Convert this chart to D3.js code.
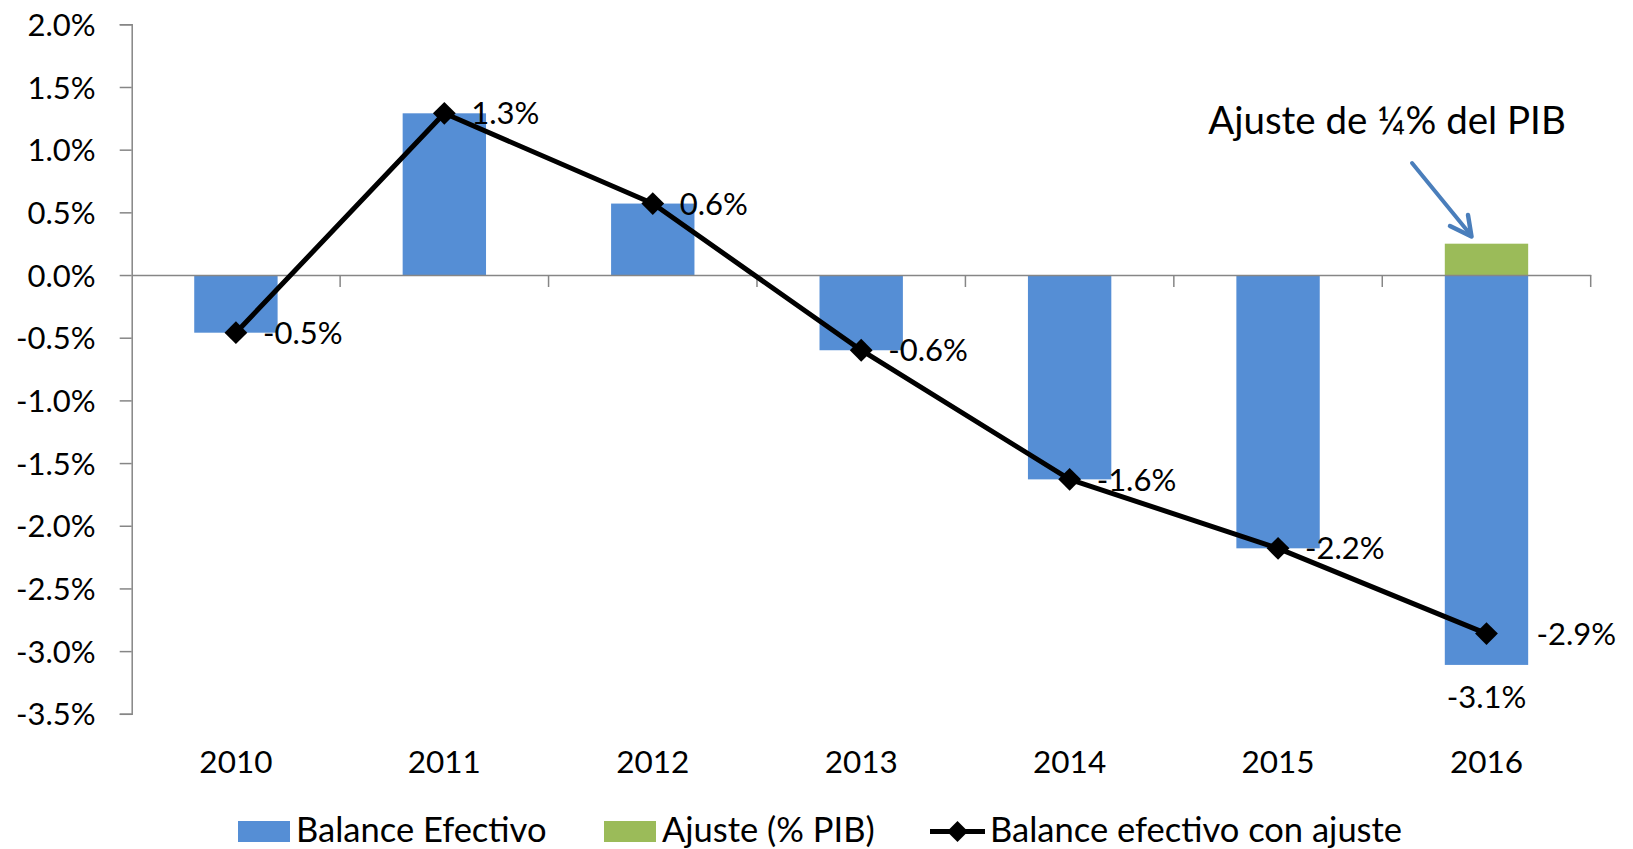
<!DOCTYPE html>
<html>
<head>
<meta charset="utf-8">
<script src="https://cdn.jsdelivr.net/npm/d3@7"></script>
<style>
  body { margin: 0; background: #fff; }
  svg text { font-family: Lato, "Open Sans", sans-serif; fill: #000; }
</style>
</head>
<body>
<svg></svg>
<script>
let years = ["2010", "2011", "2012", "2013", "2014", "2015", "2016"];
let balance = [-0.46, 1.29, 0.57, -0.60, -1.63, -2.18, -3.11];
let ajuste = [0, 0, 0, 0, 0, 0, 0.25];
let conAjuste = [-0.46, 1.29, 0.57, -0.60, -1.63, -2.18, -2.86];
let yTicks = [2.0, 1.5, 1.0, 0.5, 0.0, -0.5, -1.0, -1.5, -2.0, -2.5, -3.0, -3.5];
let legendNames = ["Balance Efectivo", "Ajuste (% PIB)", "Balance efectivo con ajuste"];
let note = "Ajuste de ¼% del PIB";

let width = 1633;
let height = 849;
let blue = "#558ed5";
let green = "#9bbb59";
let axisColor = "#868686";

let svg = d3.select("svg")
    .attr("width", width)
    .attr("height", height);

let xScale = d3.scaleBand()
    .domain(years)
    .range([131.7, 1590.7]);

let yScale = d3.scaleLinear()
    .domain([-3.5, 2.0])
    .range([713.8, 24.3]);

// excel style: plain hyphen for negatives
let pct = v => d3.format(".1%")(v).replace("\u2212", "-");
let barW = xScale.bandwidth() * 0.4;
let cx = d => xScale(d) + xScale.bandwidth() / 2;

// y axis
let yAxis = d3.axisLeft(yScale)
    .tickValues(yTicks)
    .tickSize(12)
    .tickPadding(24)
    .tickFormat(d => d3.format(".1f")(d).replace("\u2212", "-") + "%");

let gy = svg.append("g")
    .attr("transform", "translate(131.7,0)")
    .call(yAxis);
gy.select(".domain").attr("stroke", axisColor).attr("stroke-width", 1.5);
gy.selectAll(".tick line").attr("stroke", axisColor).attr("stroke-width", 1.5);
gy.selectAll(".tick text")
    .style("font-size", "31px")
    .attr("font-family", null)
    .attr("dy", "0.36em");

// bars
svg.append("g")
    .selectAll("rect")
    .data(years)
    .enter()
    .append("rect")
    .attr("x", d => cx(d) - barW / 2)
    .attr("y", (d, i) => yScale(Math.max(0, balance[i])))
    .attr("width", barW)
    .attr("height", (d, i) => Math.abs(yScale(balance[i]) - yScale(0)))
    .attr("fill", blue);

svg.append("g")
    .selectAll("rect")
    .data(years.filter((d, i) => ajuste[i] > 0))
    .enter()
    .append("rect")
    .attr("x", d => cx(d) - barW / 2)
    .attr("y", d => yScale(ajuste[years.indexOf(d)]))
    .attr("width", barW)
    .attr("height", d => yScale(0) - yScale(ajuste[years.indexOf(d)]))
    .attr("fill", green);

// category axis at zero
let xAxis = d3.axisBottom(xScale)
    .tickSize(0)
    .tickFormat("");
let gx = svg.append("g")
    .attr("transform", "translate(0," + yScale(0) + ")")
    .call(xAxis);
gx.select(".domain").attr("stroke", axisColor).attr("stroke-width", 1.5);
gx.selectAll(".tick").remove();
gx.selectAll(".sep")
    .data(years.slice(1).concat(["end"]))
    .enter()
    .append("line")
    .attr("x1", d => d === "end" ? xScale.range()[1] : xScale(d))
    .attr("x2", d => d === "end" ? xScale.range()[1] : xScale(d))
    .attr("y1", 0)
    .attr("y2", 12)
    .attr("stroke", axisColor)
    .attr("stroke-width", 1.5);

// category labels at the bottom
svg.append("g")
    .selectAll("text")
    .data(years)
    .enter()
    .append("text")
    .attr("x", d => cx(d))
    .attr("y", 773)
    .style("text-anchor", "middle")
    .style("font-size", "31.5px")
    .text(d => d);

// line with markers
let line = d3.line()
    .x((d, i) => cx(years[i]))
    .y(d => yScale(d));

svg.append("path")
    .datum(conAjuste)
    .attr("d", line)
    .attr("fill", "none")
    .attr("stroke", "#000")
    .attr("stroke-width", 5)
    .attr("stroke-linejoin", "round");

let diamond = d3.symbol().type(d3.symbolSquare).size(260);
svg.append("g")
    .selectAll("path")
    .data(conAjuste)
    .enter()
    .append("path")
    .attr("d", diamond)
    .attr("transform", (d, i) => "translate(" + cx(years[i]) + "," + yScale(d) + ") rotate(45)")
    .attr("fill", "#000");

// line labels
svg.append("g")
    .selectAll("text")
    .data(conAjuste)
    .enter()
    .append("text")
    .attr("x", (d, i) => cx(years[i]) + (i === 6 ? 50 : 27))
    .attr("y", d => yScale(d))
    .attr("dy", "0.36em")
    .style("font-size", "31px")
    .text(d => pct(d / 100));

// label under 2016 bar
svg.append("text")
    .attr("x", cx("2016"))
    .attr("y", yScale(balance[6]) + 43)
    .style("text-anchor", "middle")
    .style("font-size", "31px")
    .text(pct(balance[6] / 100));

// annotation + arrow
svg.append("text")
    .attr("x", 1387)
    .attr("y", 134)
    .style("text-anchor", "middle")
    .style("font-size", "38.5px")
    .text(note);

let arrowColor = "#4a7ebb";
svg.append("line")
    .attr("x1", 1412).attr("y1", 163)
    .attr("x2", 1470).attr("y2", 234)
    .attr("stroke", arrowColor)
    .attr("stroke-width", 4)
    .attr("stroke-linecap", "round");
svg.append("polyline")
    .attr("points", "1450,226 1471.5,236.5 1468,215")
    .attr("fill", "none")
    .attr("stroke", arrowColor)
    .attr("stroke-width", 4.5)
    .attr("stroke-linecap", "round")
    .attr("stroke-linejoin", "round");

// legend
let legend = svg.append("g");
let swatches = [
    { x: 238, color: blue, name: legendNames[0] },
    { x: 604, color: green, name: legendNames[1] }
];
legend.selectAll("rect")
    .data(swatches)
    .enter()
    .append("rect")
    .attr("x", d => d.x)
    .attr("y", 821)
    .attr("width", 52)
    .attr("height", 21)
    .attr("fill", d => d.color);
legend.selectAll("text.sw")
    .data(swatches)
    .enter()
    .append("text")
    .attr("class", "sw")
    .attr("x", d => d.x + 58)
    .attr("y", 842)
    .style("font-size", "34.5px")
    .text(d => d.name);

legend.append("line")
    .attr("x1", 930).attr("x2", 985)
    .attr("y1", 831.5).attr("y2", 831.5)
    .attr("stroke", "#000")
    .attr("stroke-width", 5);
legend.append("path")
    .attr("d", d3.symbol().type(d3.symbolSquare).size(220))
    .attr("transform", "translate(957.5,831.5) rotate(45)")
    .attr("fill", "#000");
legend.append("text")
    .attr("x", 990)
    .attr("y", 842)
    .style("font-size", "34.5px")
    .text(legendNames[2]);
</script>
</body>
</html>
